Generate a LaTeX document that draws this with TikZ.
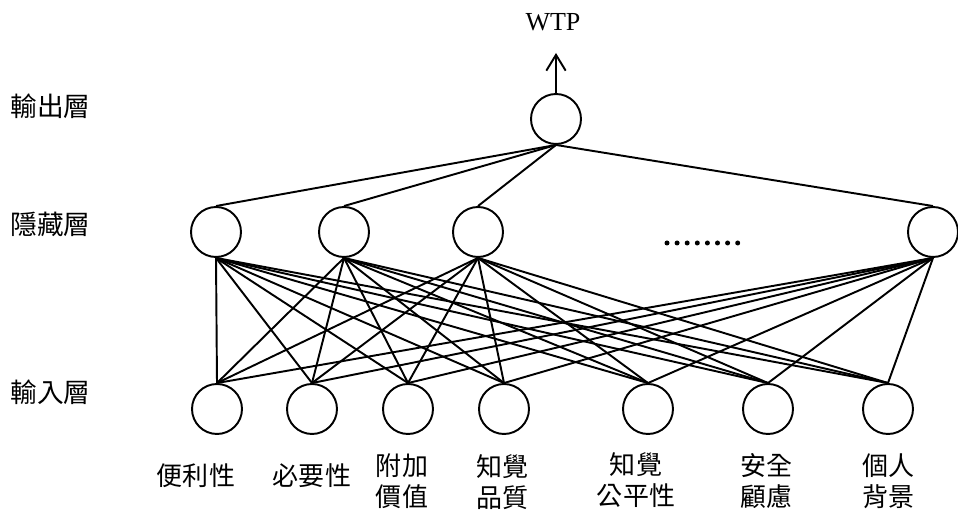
\documentclass[tikz,border=0pt]{standalone}
\usepackage{fontspec}
\setmainfont{Liberation Serif}
\newfontfamily\cjk{Noto Sans CJK TC}
\usetikzlibrary{arrows.meta}

\begin{document}
\begin{tikzpicture}[
            x=0.02cm, y=-0.02cm,
            neuron/.style={circle, draw, line width=1.1pt, minimum size=1cm, inner sep=0pt},
            link/.style={line width=1.1pt},
            layer/.style={anchor=west, inner sep=0pt, font=\cjk\fontsize{15.2}{17.6}\selectfont},
            feat/.style={align=center, inner sep=0pt, font=\cjk\fontsize{14.8}{17.6}\selectfont},
            arrow/.style={link, -{Straight Barb[length=9pt, width=11pt, line width=1.1pt]}}
        ]
            \useasboundingbox (0,0) rectangle (958,516);

            % layer names
            \node[layer] (outname) at (10,106) {輸出層};
            \node[layer] (hidname) at (10,224) {隱藏層};
            \node[layer] (inname) at (10,392) {輸入層};

            % output
            \node[neuron] (out) at (556,119) {};
            \coordinate (wtpend) at (556,53);
            \node[inner sep=0pt, font=\fontsize{14.8}{17.6}\selectfont] (wtp) at (553,22) {WTP};
            \draw[arrow] (out.north) -- (wtpend);

            % hidden
            \node[neuron] (h1) at (216,232) {};
            \node[neuron] (h2) at (344,232) {};
            \node[neuron] (h3) at (478,232) {};
            \node[neuron] (h4) at (933,232) {};
            \foreach \k in {0,...,7}
                \fill (667+\k*10.1,243) circle (0.05cm);

            % input
            \foreach \x [count=\i] in {217,312,408,504,648,768,888}
                \node[neuron] (in\i) at (\x,409) {};

            \node[feat] (f1) at (196,476) {便利性};
            \node[feat] (f2) at (312,476) {必要性};
            \node[feat] (f3) at (402,481) {附加\\價值};
            \node[feat] (f4) at (502,482) {知覺\\品質};
            \node[feat] (f5) at (636,480) {知覺\\公平性};
            \node[feat] (f6) at (766,481) {安全\\顧慮};
            \node[feat] (f7) at (888,481) {個人\\背景};

            % weights
            \foreach \h in {1,...,4} {
                \draw[link] (h\h.north) -- (out.south);
                \foreach \i in {1,...,7}
                    \draw[link] (h\h.south) -- (in\i.north);
            }
        \end{tikzpicture}
\end{document}
